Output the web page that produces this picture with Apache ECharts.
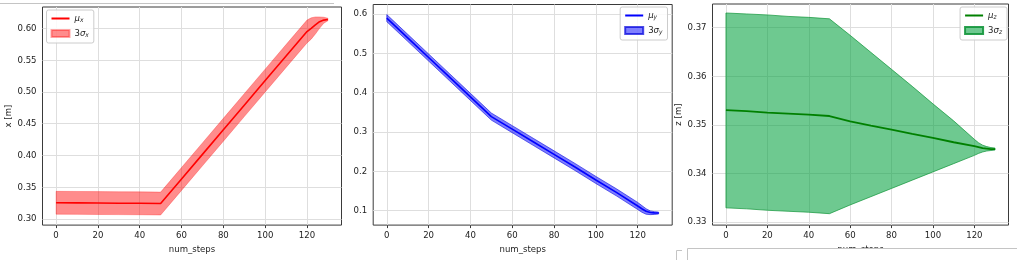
<!DOCTYPE html>
<html>
<head>
<meta charset="utf-8">
<script src="https://cdn.jsdelivr.net/npm/echarts@6/dist/echarts.min.js"></script>
<style>
html,body{margin:0;padding:0;background:#fff;}
#chart{width:1017px;height:260px;}
</style>
</head>
<body>
<div id="chart"></div>
<script>
// ---------- data ----------
const steps = [0,10,20,30,40,50,60,70,80,90,100,110,120,122,124,126,128,130];

const xMean  = [0.3255,0.3253,0.3251,0.3249,0.3247,0.3243,0.3630,0.4017,0.4404,0.4791,0.5178,0.5565,0.5950,0.6000,0.6055,0.6105,0.6130,0.6140];
const xUpper = [0.3435,0.3433,0.3431,0.3429,0.3427,0.3423,0.3810,0.4197,0.4584,0.4971,0.5358,0.5745,0.6130,0.6165,0.6180,0.6180,0.6175,0.6160];
const xLower = [0.3075,0.3073,0.3071,0.3069,0.3067,0.3063,0.3450,0.3837,0.4224,0.4611,0.4998,0.5385,0.5770,0.5830,0.5910,0.6000,0.6080,0.6120];

const yMean  = [0.589,0.539,0.489,0.439,0.389,0.339,0.307,0.275,0.243,0.211,0.178,0.146,0.112,0.105,0.0985,0.0955,0.0945,0.094];
const yUpper = [0.598,0.548,0.498,0.448,0.398,0.348,0.316,0.284,0.252,0.220,0.187,0.155,0.121,0.113,0.105,0.0995,0.0975,0.0965];
const yLower = [0.580,0.530,0.480,0.430,0.380,0.330,0.298,0.266,0.234,0.202,0.169,0.137,0.103,0.096,0.091,0.090,0.0905,0.0915];

const zMean  = [0.3530,0.3528,0.3525,0.3523,0.3521,0.3518,0.3507,0.3498,0.3490,0.3481,0.3473,0.3464,0.3456,0.3454,0.3452,0.3451,0.3450,0.3450];
const zUpper = [0.3730,0.3728,0.3726,0.3723,0.3721,0.3718,0.3684,0.3649,0.3614,0.3579,0.3543,0.3508,0.3470,0.3463,0.3458,0.3455,0.3453,0.3452];
const zLower = [0.3329,0.3327,0.3324,0.3322,0.3320,0.3317,0.3335,0.3352,0.3369,0.3386,0.3403,0.3420,0.3437,0.3441,0.3444,0.3446,0.3447,0.3448];

const xTicks  = [0,20,40,60,80,100,120];
const yTicks1 = [0.30,0.35,0.40,0.45,0.50,0.55,0.60];
const yTicks2 = [0.1,0.2,0.3,0.4,0.5,0.6];
const yTicks3 = [0.33,0.34,0.35,0.36,0.37];

const xName = 'num_steps';
const yNames = ['x [m]', '', 'z [m]'];
const seriesNames = [['μx','3σx'],['μy','3σy'],['μz','3σz']];
const legendRich = {
  'μx':'{g|μ}{s|x}', '3σx':'{n|3}{g|σ}{s|x}',
  'μy':'{g|μ}{s|y}', '3σy':'{n|3}{g|σ}{s|y}',
  'μz':'{g|μ}{s|z}', '3σz':'{n|3}{g|σ}{s|z}'
};

// ---------- styling ----------
const FONT = "'DejaVu Sans Condensed','Liberation Sans','DejaVu Sans',sans-serif";
const TXT = '#222';
const FRAME = '#3a3a3a';
const GRIDC = '#dedede';

const panels = [
  {grid:{left:42.5, top:7, width:299, height:223}, yMin:0.2904, yMax:0.6336, yTicks:yTicks1, dec:2, nameGap:22,
   mean:xMean, up:xUpper, lo:xLower, line:'#ff0000', fill:'rgba(255,0,0,0.45)', edge:'rgba(255,0,0,0.35)', lw:1.6},
  {grid:{left:373.2, top:4.5, width:299, height:222}, yMin:0.0634, yMax:0.6236, yTicks:yTicks2, dec:1, nameGap:22,
   mean:yMean, up:yUpper, lo:yLower, line:'#0000ff', fill:'rgba(0,0,255,0.5)', edge:'rgba(0,0,220,0.7)', lw:1.6},
  {grid:{left:712.5, top:4, width:296, height:222.7}, yMin:0.32935, yMax:0.37485, yTicks:yTicks3, dec:2, nameGap:22,
   mean:zMean, up:zUpper, lo:zLower, line:'#008000', fill:'rgba(0,160,60,0.57)', edge:'rgba(20,150,60,0.9)', lw:1.8}
];

const grids = [], xAxes = [], yAxes = [], series = [], legends = [];
panels.forEach((p, k) => {
  grids.push(Object.assign({show:true, borderColor:FRAME, borderWidth:1, backgroundColor:'transparent'}, p.grid));
  xAxes.push({
    type:'value', gridIndex:k, min:-6.5, max:136.5,
    name:xName, nameLocation:'middle', nameGap:12,
    nameTextStyle:{fontSize:9.5, color:TXT, fontFamily:FONT},
    axisLine:{show:false},
    axisTick:{show:true, customValues:xTicks, length:3, lineStyle:{color:FRAME}},
    axisLabel:{customValues:xTicks, fontSize:9.5, color:TXT, fontFamily:FONT, margin:5},
    splitLine:{show:false}
  });
  yAxes.push({
    type:'value', gridIndex:k, min:p.yMin, max:p.yMax,
    name:yNames[k], nameLocation:'middle', nameGap:p.nameGap, nameRotate:90,
    nameTextStyle:{fontSize:9.5, color:TXT, fontFamily:FONT},
    axisLine:{show:false},
    axisTick:{show:true, customValues:p.yTicks, length:3, lineStyle:{color:FRAME}},
    axisLabel:{customValues:p.yTicks, fontSize:9.5, color:TXT, fontFamily:FONT, margin:6,
               formatter:(v)=>Number(v).toFixed(p.dec)},
    splitLine:{show:false}
  });
  const gridLines = xTicks.map(v=>({xAxis:v})).concat(p.yTicks.map(v=>({yAxis:v})));
  series.push({
    name:seriesNames[k][1], type:'custom', xAxisIndex:k, yAxisIndex:k, z:2,
    itemStyle:{color:p.fill, borderColor:p.edge, borderWidth:0.8},
    data: steps.map((s,i)=>[s, p.lo[i], p.up[i]]),
    encode:{x:0, y:[1,2]},
    renderItem:(params, api) => {
      if (params.dataIndex !== 0) return null;
      const pts = [];
      for (let i=0;i<steps.length;i++) pts.push(api.coord([steps[i], p.up[i]]));
      for (let i=steps.length-1;i>=0;i--) pts.push(api.coord([steps[i], p.lo[i]]));
      return {type:'polygon', shape:{points:pts}, style:{fill:p.fill, stroke:p.edge, lineWidth:0.8}};
    },
    markLine:{silent:true, z:1, symbol:'none', animation:false, label:{show:false},
      lineStyle:{color:GRIDC, type:'solid', width:1}, emphasis:{disabled:true}, data:gridLines}
  });
  series.push({
    name:seriesNames[k][0], type:'line', xAxisIndex:k, yAxisIndex:k, z:3,
    symbol:'none', showSymbol:false, color:p.line,
    lineStyle:{color:p.line, width:p.lw},
    data: steps.map((s,i)=>[s, p.mean[i]])
  });
});

const legendBase = {
  orient:'vertical', itemWidth:18, itemHeight:7, itemGap:5,
  padding:[4,5,4,4], borderColor:'#cccccc', borderWidth:1, borderRadius:2,
  backgroundColor:'rgba(255,255,255,0.85)',
  formatter:(n)=>legendRich[n],
  textStyle:{fontSize:9, color:TXT, fontFamily:FONT,
    rich:{
      g:{fontStyle:'italic', fontSize:9.5, color:TXT, fontFamily:FONT, verticalAlign:'bottom', lineHeight:11},
      n:{fontSize:9.5, color:TXT, fontFamily:FONT, verticalAlign:'bottom', lineHeight:11},
      s:{fontStyle:'italic', fontSize:6.5, color:TXT, fontFamily:FONT, verticalAlign:'bottom', lineHeight:9}
    }}
};
const lineItem = (n) => ({name:n, itemStyle:{opacity:0, color:'transparent', borderWidth:0}});
legends.push(Object.assign({}, legendBase, {left:46.5, top:10, data:[lineItem('μx'),{name:'3σx', icon:'rect'}]}));
legends.push(Object.assign({}, legendBase, {right:349.5, top:7, data:[lineItem('μy'),{name:'3σy', icon:'rect'}]}));
legends.push(Object.assign({}, legendBase, {right:10, top:7, data:[lineItem('μz'),{name:'3σz', icon:'rect'}]}));

const chart = echarts.init(document.getElementById('chart'), null, {renderer:'canvas'});
chart.setOption({
  animation:false,
  backgroundColor:'#ffffff',
  grid:grids, xAxis:xAxes, yAxis:yAxes, series:series, legend:legends,
  graphic:[
    {type:'line', z:100, silent:true, shape:{x1:0, y1:3.5, x2:334, y2:3.5}, style:{stroke:'#c4c4c4', lineWidth:1}},
    {type:'rect', z:100, silent:true, shape:{x:687.5, y:248.5, width:340, height:20}, style:{fill:'#ffffff', stroke:'#c4c4c4', lineWidth:1}},
    {type:'polyline', z:100, silent:true, shape:{points:[[676.5,260],[676.5,250.5],[682,250.5]]}, style:{fill:null, stroke:'#c4c4c4', lineWidth:1}}
  ]
});
</script>
</body>
</html>
